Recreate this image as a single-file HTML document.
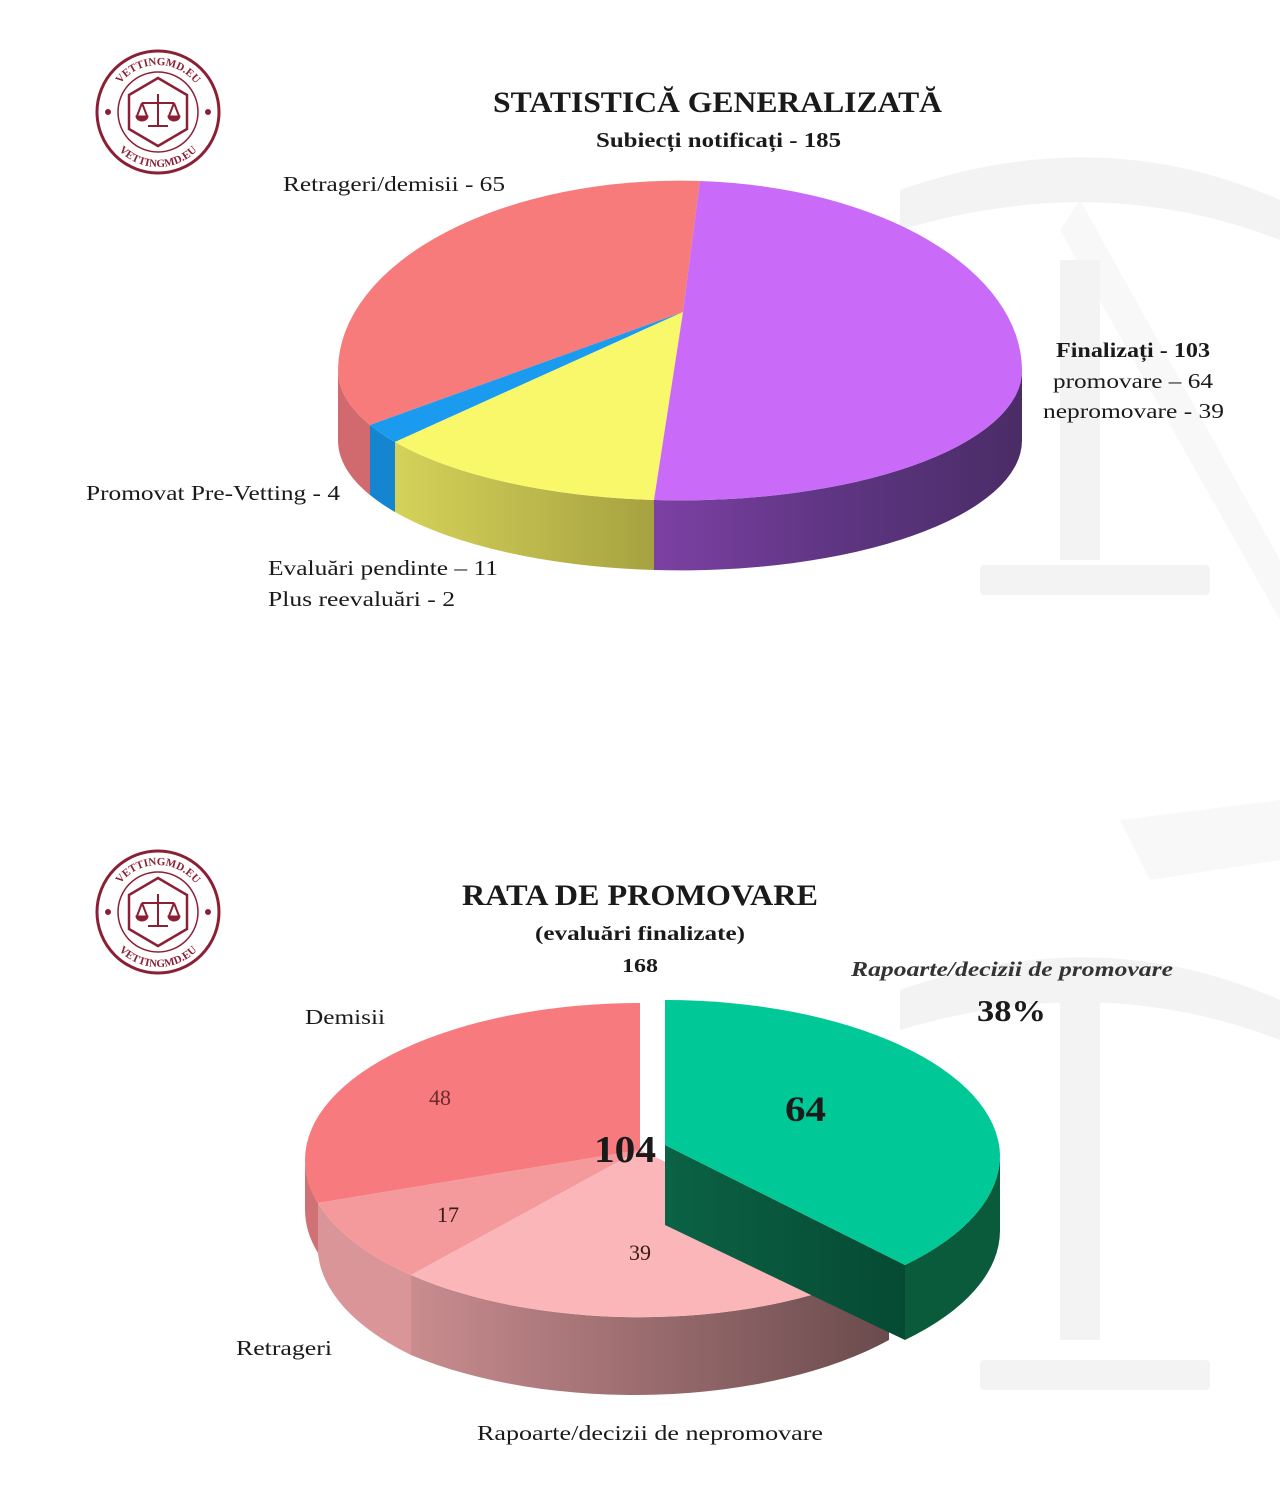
<!DOCTYPE html>
<html><head><meta charset="utf-8"><style>
html,body{margin:0;padding:0;background:#fff;}
svg{display:block}
text{font-family:"Liberation Serif",serif;fill:#1a1a1a}
</style></head><body>
<svg width="1280" height="1502" viewBox="0 0 1280 1502" xmlns="http://www.w3.org/2000/svg">
<defs>
<linearGradient id="pside" x1="0" x2="1"><stop offset="0" stop-color="#7c40a3"/><stop offset="0.5" stop-color="#5e3582"/><stop offset="1" stop-color="#4a2c66"/></linearGradient>
<linearGradient id="yside" x1="0" x2="1"><stop offset="0" stop-color="#d5d25a"/><stop offset="1" stop-color="#a6a240"/></linearGradient>
<linearGradient id="kside" x1="0" x2="1"><stop offset="0" stop-color="#c98c8f"/><stop offset="1" stop-color="#6a4b4d"/></linearGradient>
<linearGradient id="gside" x1="0" x2="1"><stop offset="0" stop-color="#0b6245"/><stop offset="1" stop-color="#064a33"/></linearGradient>
<path id="arcTop" d="M-47,0 A47,47 0 0,1 47,0"/>
<path id="arcBot" d="M-55,0 A55,55 0 0,0 55,0"/>
</defs>
<!-- watermark -->
<g fill="#f3f3f3">
<rect x="980" y="565" width="230" height="30" rx="4"/>
<rect x="1060" y="260" width="40" height="300"/>
<path d="M900 190 Q1100 120 1280 200 L1280 240 Q1100 170 900 230Z"/>
<path d="M1080 200 L1280 560 L1280 620 L1060 230Z" opacity="0.6"/>
<rect x="980" y="1360" width="230" height="30" rx="4"/>
<rect x="1060" y="1000" width="40" height="340"/>
<path d="M900 990 Q1100 920 1280 1000 L1280 1040 Q1100 970 900 1030Z"/>
<path d="M1120 820 L1280 800 L1280 860 L1150 880Z" opacity="0.6"/>
</g>
<!-- logos -->
<g id="logo" transform="translate(158,112)" fill="none" stroke="#8b2035">
<circle r="61" stroke-width="3"/>
<circle r="40" stroke-width="1.5"/>
<path d="M0,-34 L29,-17 L29,17 L0,34 L-29,17 L-29,-17Z" stroke-width="2.5"/>
<path d="M0,-18 V14 M-10,14 H10 M-16,-9 H16 M-16,-9 L-21,4 M-16,-9 L-11,4 M16,-9 L21,4 M16,-9 L11,4" stroke-width="2"/>
<path d="M-22,4 A6,5 0 0,0 -10,4Z M10,4 A6,5 0 0,0 22,4Z" fill="#8b2035"/>
<circle cx="-50" cy="0" r="2.5" fill="#8b2035"/><circle cx="50" cy="0" r="2.5" fill="#8b2035"/>
<text font-size="11" font-weight="bold" stroke="none" style="fill:#8b2035" text-anchor="middle"><textPath href="#arcTop" startOffset="50%">VETTINGMD.EU</textPath></text>
<text font-size="11" font-weight="bold" stroke="none" style="fill:#8b2035" text-anchor="middle"><textPath href="#arcBot" startOffset="50%">VETTINGMD.EU</textPath></text>
</g>
<use href="#logo" transform="translate(0,800)"/>

<!-- Top pie sides -->
<path d="M338,370 A342,130 0 0,0 370,425 L370,495 A342,130 0 0,1 338,440Z" fill="#d06a6e"/>
<path d="M370,425 A342,130 0 0,0 395,442 L395,512 A342,130 0 0,1 370,495Z" fill="#1585d0"/>
<path d="M395,442 A342,130 0 0,0 654,500 L654,570 A342,130 0 0,1 395,512Z" fill="url(#yside)"/>
<path d="M654,500 A342,130 0 0,0 1022,370 L1022,440 A342,130 0 0,1 654,570Z" fill="url(#pside)"/>
<!-- Top pie faces -->
<path d="M683,312 L700,181 A342,190 0 0,0 338,370 A342,130 0 0,0 370,425Z" fill="#f77b7b"/>
<path d="M683,312 L370,425 A342,130 0 0,0 395,442Z" fill="#1a9bf0"/>
<path d="M683,312 L395,442 A342,130 0 0,0 654,500Z" fill="#f8f86a"/>
<path d="M683,312 L654,500 A342,130 0 0,0 1022,370 A342,190 0 0,0 700,181Z" fill="#c96af8"/>

<text x="493" y="112" font-size="30" font-weight="bold" textLength="449" lengthAdjust="spacingAndGlyphs">STATISTICĂ GENERALIZATĂ</text>
<text x="596" y="147" font-size="21" font-weight="bold" textLength="245" lengthAdjust="spacingAndGlyphs">Subiecți notificați - 185</text>
<text x="283" y="191" font-size="21" textLength="222" lengthAdjust="spacingAndGlyphs">Retrageri/demisii - 65</text>
<text x="1056" y="357" font-size="21" font-weight="bold" textLength="154" lengthAdjust="spacingAndGlyphs">Finalizați - 103</text>
<text x="1053" y="388" font-size="21" textLength="160" lengthAdjust="spacingAndGlyphs">promovare – 64</text>
<text x="1043" y="418" font-size="21" textLength="181" lengthAdjust="spacingAndGlyphs">nepromovare - 39</text>
<text x="86" y="500" font-size="21" textLength="254" lengthAdjust="spacingAndGlyphs">Promovat Pre-Vetting - 4</text>
<text x="268" y="575" font-size="21" textLength="230" lengthAdjust="spacingAndGlyphs">Evaluări pendinte – 11</text>
<text x="268" y="606" font-size="21" textLength="187" lengthAdjust="spacingAndGlyphs">Plus reevaluări - 2</text>

<!-- Bottom pie sides -->
<path d="M305,1160 A335,157 0 0,0 318,1203 L318,1253 A335,157 0 0,1 305,1210Z" fill="#d07275"/>
<path d="M318,1203 A335,157 0 0,0 411,1275 L411,1355 A335,157 0 0,1 318,1253Z" fill="#d99598"/>
<path d="M411,1275 A335,157 0 0,0 889,1265 L889,1340 A335,157 0 0,1 411,1355Z" fill="url(#kside)"/>
<!-- bottom faces -->
<path d="M640,1150 L640,1003 A335,157 0 0,0 305,1160 A335,157 0 0,0 318,1203Z" fill="#f77b7e"/>
<path d="M640,1150 L318,1203 A335,157 0 0,0 411,1275Z" fill="#f59a9c"/>
<path d="M640,1150 L411,1275 A335,157 0 0,0 889,1265Z" fill="#fbb6b9"/>
<!-- green -->
<path d="M665,1145 L905,1265 L905,1340 L665,1225Z" fill="url(#gside)"/>
<path d="M1000,1155 A335,157 0 0,1 905,1265 L905,1340 A335,157 0 0,0 1000,1230Z" fill="#0a5a3c"/>
<path d="M665,1145 L665,1000 A335,157 0 0,1 1000,1155 A335,157 0 0,1 905,1265Z" fill="#00c896"/>

<text x="462" y="905" font-size="30" font-weight="bold" textLength="356" lengthAdjust="spacingAndGlyphs">RATA DE PROMOVARE</text>
<text x="535" y="940" font-size="20" font-weight="bold" textLength="210" lengthAdjust="spacingAndGlyphs">(evaluări finalizate)</text>
<text x="622" y="972" font-size="20" font-weight="bold" textLength="36" lengthAdjust="spacingAndGlyphs">168</text>
<text x="851" y="976" font-size="21" font-style="italic" font-weight="bold" style="fill:#333" textLength="322" lengthAdjust="spacingAndGlyphs">Rapoarte/decizii de promovare</text>
<text x="977" y="1021" font-size="31" font-weight="bold" textLength="69" lengthAdjust="spacingAndGlyphs">38%</text>
<text x="305" y="1024" font-size="21" textLength="80" lengthAdjust="spacingAndGlyphs">Demisii</text>
<text x="440" y="1105" text-anchor="middle" font-size="22" style="fill:#6b2a2a">48</text>
<text x="594" y="1162" font-size="38" font-weight="bold" textLength="62" lengthAdjust="spacingAndGlyphs">104</text>
<text x="785" y="1121" font-size="36" font-weight="bold" textLength="41" lengthAdjust="spacingAndGlyphs">64</text>
<text x="448" y="1222" text-anchor="middle" font-size="22" style="fill:#3a1a1a">17</text>
<text x="640" y="1260" text-anchor="middle" font-size="22" style="fill:#3a1a1a">39</text>
<text x="236" y="1355" font-size="21" textLength="96" lengthAdjust="spacingAndGlyphs">Retrageri</text>
<text x="477" y="1440" font-size="21" textLength="346" lengthAdjust="spacingAndGlyphs">Rapoarte/decizii de nepromovare</text>
</svg>
</body></html>
